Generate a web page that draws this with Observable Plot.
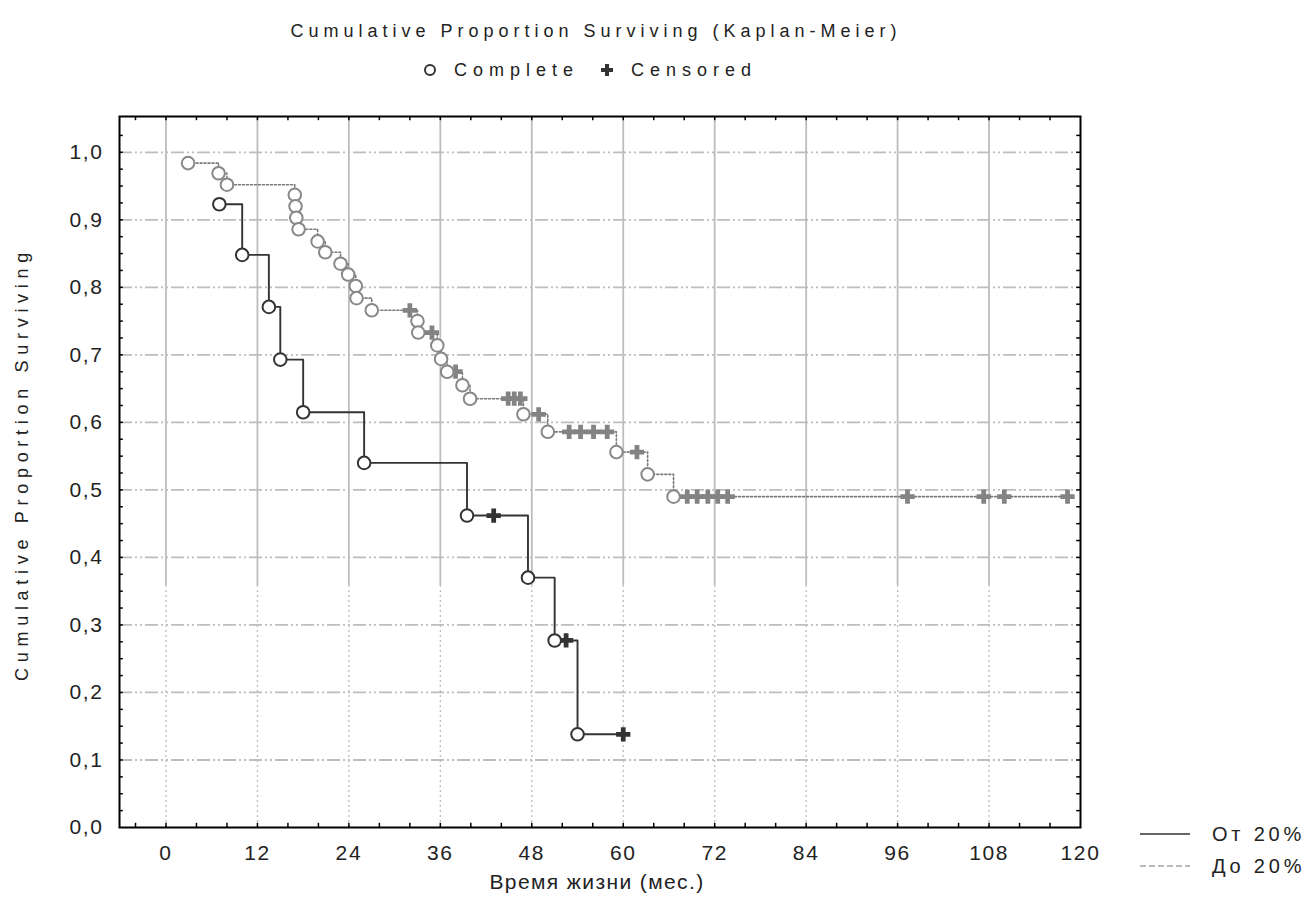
<!DOCTYPE html>
<html><head><meta charset="utf-8">
<script src="https://cdn.jsdelivr.net/npm/d3@7"></script>
<script src="https://cdn.jsdelivr.net/npm/@observablehq/plot@0.6"></script>
<style>
body{margin:0;background:#fff;font-family:"Liberation Sans",Arial,sans-serif;color:#222}
#wrap{position:relative;width:1312px;height:920px;overflow:hidden}
#chart{position:absolute;left:0;top:0}
.t{position:absolute;white-space:nowrap;line-height:1;transform:translate(-50%,-50%)}
.l{position:absolute;white-space:nowrap;line-height:1;transform:translate(0,-50%)}
</style></head>
<body><div id="wrap">
<div id="chart"></div>
<div class="t" style="left:596px;top:31px;font-size:18px;letter-spacing:5px">Cumulative Proportion Surviving (Kaplan-Meier)</div>
<div class="l" style="left:422px;top:70px;font-size:18px;letter-spacing:6px">
<svg width="16" height="16" style="vertical-align:-2px;margin-right:16px"><circle cx="8" cy="8" r="5" fill="#fff" stroke="#333" stroke-width="2"/></svg>Complete<svg width="16" height="16" style="vertical-align:-2px;margin-left:20px;margin-right:16px"><path d="M2,6H6V2H10V6H14V10H10V14H6V10H2Z" fill="#333"/></svg>Censored</div>
<div class="t" style="left:22px;top:464px;font-size:18px;letter-spacing:5.7px;transform:translate(-50%,-50%) rotate(-90deg)">Cumulative Proportion Surviving</div>
<div class="t" style="left:597px;top:881px;font-size:21px;letter-spacing:1.4px">Время жизни (мес.)</div>
<svg style="position:absolute;left:1138px;top:826px" width="56" height="50"><line x1="2" x2="52" y1="8" y2="8" stroke="#333" stroke-width="1.6"/><line x1="2" x2="52" y1="40" y2="40" stroke="#777" stroke-width="1.2" stroke-dasharray="6,3"/></svg>
<div class="l" style="left:1212px;top:834px;font-size:20px;letter-spacing:3.8px">От 20%</div>
<div class="l" style="left:1212px;top:866px;font-size:20px;letter-spacing:3.8px">До 20%</div>
</div>
<script>
// ---- Data ----
const groups = ["От 20%", "До 20%"];

// Group "От 20%" (solid line)
const otEventTime = [7, 10, 13.5, 15, 18, 26, 39.5, 47.5, 51, 54];
const otEventSurv = [0.923, 0.848, 0.771, 0.693, 0.615, 0.540, 0.462, 0.370, 0.277, 0.138];
const otCensTime  = [43, 52.5, 60];
const otCensSurv  = [0.462, 0.277, 0.138];

// Group "До 20%" (dotted line)
const doEventTime = [2.9, 6.9, 8.0, 16.9, 17.0, 17.1, 17.4, 19.9, 20.9, 22.9, 23.9, 24.9, 25.0, 27.0,
                     33.0, 33.1, 35.6, 36.1, 36.9, 38.9, 39.9, 46.9, 50.1, 59.1, 63.2, 66.6];
const doEventSurv = [0.984, 0.969, 0.952, 0.937, 0.920, 0.903, 0.886, 0.868, 0.852, 0.835, 0.819, 0.802, 0.784, 0.766,
                     0.750, 0.733, 0.714, 0.694, 0.675, 0.655, 0.635, 0.612, 0.586, 0.556, 0.523, 0.490];
const doCensTime  = [32.0, 34.9, 38.0, 44.9, 45.7, 46.5, 48.9, 52.9, 54.4, 56.1, 57.9, 61.8,
                     68.4, 69.7, 71.1, 72.4, 73.7, 97.3, 107.3, 110.0, 118.3];
const doCensSurv  = [0.766, 0.733, 0.675, 0.635, 0.635, 0.635, 0.612, 0.586, 0.586, 0.586, 0.586, 0.556,
                     0.490, 0.490, 0.490, 0.490, 0.490, 0.490, 0.490, 0.490, 0.490];

// Tick labels
const xTicks = [0, 12, 24, 36, 48, 60, 72, 84, 96, 108, 120];
const yTicks = [0, 0.1, 0.2, 0.3, 0.4, 0.5, 0.6, 0.7, 0.8, 0.9, 1.0];

// ---- Build tables ----
function pts(g, ts, ss, kind) { return ts.map((t, i) => ({group: g, t, s: ss[i], kind})); }
const otEvents = pts(groups[0], otEventTime, otEventSurv, "Complete");
const otCens   = pts(groups[0], otCensTime, otCensSurv, "Censored");
const doEvents = pts(groups[1], doEventTime, doEventSurv, "Complete");
const doCens   = pts(groups[1], doCensTime, doCensSurv, "Censored");
const otLine = [...otEvents, ...otCens].sort((a, b) => a.t - b.t);
const doLine = [...doEvents, ...doCens].sort((a, b) => a.t - b.t);

const X0 = -6.1, X1 = 120, Y0 = 0, Y1 = 1.053;
const gridX = xTicks.filter(d => d < 120);
const gridY = yTicks.filter(d => d > 0);
const minorX = d3.range(-4, 120, 4);
const minorY = d3.range(0.025, 1.05, 0.025);
const tx = 0.5, ty = 0.0062; // inner tick length in data units (~4px)
const GRID = "#bdbdbd";
const fmt = d => d.toFixed(1).replace(".", ",");

const chart = Plot.plot({
  width: 1312, height: 920,
  marginLeft: 119, marginRight: 232, marginTop: 116, marginBottom: 93,
  style: {fontFamily: "'Liberation Sans', Arial, sans-serif", fontSize: "21px", color: "#222", background: "#fff", letterSpacing: "1.6px"},
  x: {domain: [X0, X1], axis: null},
  y: {domain: [Y0, Y1], ticks: yTicks, tickSize: 0, tickPadding: 16, tickFormat: fmt, label: null},
  marks: [
    // grid
    Plot.ruleY(gridY, {x1: X0, x2: X1, stroke: GRID, strokeWidth: 1.8, strokeDasharray: "13,3,2,3,2,3"}),
    Plot.ruleX(gridX, {y1: 0.358, y2: Y1, stroke: GRID, strokeWidth: 1.8}),
    Plot.ruleX(gridX, {y1: Y0, y2: 0.358, stroke: GRID, strokeWidth: 1.3, strokeDasharray: "2,3"}),
    // frame inner ticks
    Plot.ruleX(minorX, {y1: Y0, y2: Y0 + ty, stroke: "#000", strokeWidth: 1.5}),
    Plot.ruleX(minorX, {y1: Y1 - ty, y2: Y1, stroke: "#000", strokeWidth: 1.5}),
    Plot.ruleY(minorY, {x1: X0, x2: X0 + tx, stroke: "#000", strokeWidth: 1.5}),
    Plot.ruleY(minorY, {x1: X1 - tx, x2: X1, stroke: "#000", strokeWidth: 1.5}),
    // x tick labels
    Plot.text(xTicks, {x: d => d, y: Y0, dy: 26, text: d => String(d), fill: "#222"}),
    // survival lines
    Plot.line(doLine, {x: "t", y: "s", curve: "step-after", stroke: "#7a7a7a", strokeWidth: 1.6, strokeDasharray: "2,2"}),
    Plot.line(otLine, {x: "t", y: "s", curve: "step-after", stroke: "#333", strokeWidth: 1.9}),
    // markers
    Plot.dot(doCens, {x: "t", y: "s", symbol: "cross", r: 6, fill: "#838383", stroke: "none"}),
    Plot.dot(doEvents, {x: "t", y: "s", symbol: "circle", r: 6.3, fill: "#fff", stroke: "#888", strokeWidth: 2}),
    Plot.dot(otCens, {x: "t", y: "s", symbol: "cross", r: 6, fill: "#333", stroke: "none"}),
    Plot.dot(otEvents, {x: "t", y: "s", symbol: "circle", r: 6.3, fill: "#fff", stroke: "#333", strokeWidth: 2}),
    Plot.frame({stroke: "#000", strokeWidth: 2})
  ]
});
document.getElementById("chart").appendChild(chart);
</script>
</body></html>
